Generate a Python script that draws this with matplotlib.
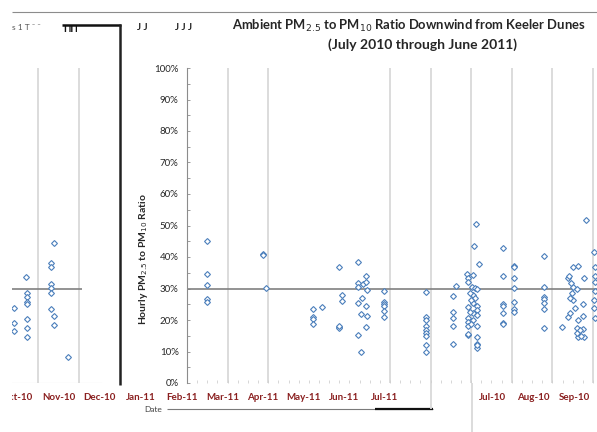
import matplotlib
matplotlib.use("Agg")
import matplotlib.pyplot as plt
from matplotlib.lines import Line2D
from matplotlib.transforms import Bbox, TransformedBbox
import numpy as np

plt.rcParams['font.family'] = ['Lato', 'DejaVu Sans']

W, H = 597, 432

# ---- data -------------------------------------------------------------
# Oct-Dec 2010 strip (x in months since 1 Jul 2010)
strip_x = [3.71, 3.73, 3.73, 3.73, 3.73, 3.73, 3.73, 3.73,
           3.41, 3.41, 3.41,
           4.39, 4.39, 4.39,
           4.32, 4.32, 4.32, 4.32, 4.32, 4.32,
           4.73]
strip_y = [0.337, 0.286, 0.273, 0.257, 0.250, 0.203, 0.175, 0.146,
           0.238, 0.190, 0.165,
           0.444, 0.213, 0.184,
           0.381, 0.368, 0.314, 0.302, 0.286, 0.235,
           0.083]
strip_months = ["Oct-10", "Nov-10", "Dec-10"]

# main panel (x in month units from the ratio axis)
main_x = [0.49, 0.49, 0.49, 0.49, 0.49,
          1.87, 1.87, 1.95,
          3.10, 3.10, 3.10, 3.10, 3.33,
          3.74, 3.74, 3.74, 3.74, 3.82, 3.82,
          4.21, 4.21, 4.21, 4.21, 4.21, 4.29, 4.29, 4.31, 4.33,
          4.41, 4.41, 4.41, 4.41, 4.43, 4.43,
          4.85, 4.85, 4.85, 4.85, 4.85, 4.85,
          5.89, 5.89, 5.89, 5.89, 5.89, 5.89, 5.89, 5.89, 5.89,
          6.55, 6.55, 6.55, 6.55, 6.55, 6.63,
          7.12, 7.07, 7.19, 6.90,
          6.92, 6.92, 6.92, 6.92, 6.92, 6.92, 6.92, 6.92,
          7.04, 7.04, 7.04, 7.04, 7.04, 7.02, 7.09, 7.09,
          7.14, 7.14, 7.14, 7.14, 7.14, 7.14, 7.14,
          6.97, 6.97, 7.00, 7.00, 7.14, 7.14,
          7.78, 7.78, 7.78, 7.78, 7.78, 7.78, 7.78,
          8.05, 8.05, 8.05, 8.05, 8.05, 8.05, 8.05,
          8.79, 8.79, 8.79, 8.79, 8.79, 8.79, 8.79,
          9.83, 9.38, 9.38, 9.41, 9.51, 9.51, 9.51, 9.63, 9.63, 9.63,
          9.78, 9.78, 9.46, 9.61, 9.61, 9.61, 9.48, 9.43, 9.43,
          9.75, 9.75, 9.75, 9.56, 9.24, 9.68, 9.70,
          10.03, 10.04, 10.05, 10.05, 10.05, 10.03, 10.03, 10.05]
main_y = [0.451, 0.346, 0.311, 0.267, 0.257,
          0.410, 0.405, 0.302,
          0.235, 0.210, 0.203, 0.187, 0.241,
          0.368, 0.178, 0.175, 0.181, 0.279, 0.260,
          0.384, 0.317, 0.305, 0.254, 0.152, 0.219, 0.098, 0.270, 0.314,
          0.340, 0.321, 0.244, 0.178, 0.295, 0.213,
          0.292, 0.257, 0.250, 0.244, 0.229, 0.210,
          0.289, 0.210, 0.200, 0.181, 0.168, 0.159, 0.149, 0.121, 0.098,
          0.276, 0.225, 0.206, 0.181, 0.124, 0.308,
          0.505, 0.435, 0.378, 0.346,
          0.333, 0.321, 0.241, 0.206, 0.194, 0.181, 0.152, 0.156,
          0.343, 0.279, 0.254, 0.222, 0.200, 0.305, 0.302, 0.270,
          0.298, 0.244, 0.181, 0.146, 0.124, 0.111, 0.121,
          0.286, 0.225, 0.263, 0.187, 0.232, 0.216,
          0.429, 0.340, 0.250, 0.244, 0.222, 0.190, 0.187,
          0.371, 0.368, 0.333, 0.302, 0.257, 0.235, 0.225,
          0.403, 0.305, 0.273, 0.267, 0.254, 0.235, 0.175,
          0.517, 0.333, 0.210, 0.340, 0.368, 0.305, 0.263, 0.371, 0.200, 0.146,
          0.333, 0.146, 0.317, 0.298, 0.175, 0.159, 0.286, 0.270, 0.222,
          0.250, 0.213, 0.171, 0.238, 0.178, 0.168, 0.149,
          0.416, 0.368, 0.340, 0.321, 0.292, 0.263, 0.238, 0.206]
main_months = ["Jan-11", "Feb-11", "Mar-11", "Apr-11", "May-11", "Jun-11", "Jul-11"]
late_months = ["Jul-10", "Aug-10", "Sep-10"]
main_grid = [1, 2, 5, 6, 7, 8, 9, 10]
reference_ratio = 0.30

# ---- styling ---------------------------------------------------------
BLUE = "#4a7ebb"
GRID = "#d9d9d9"
REF = "#808080"
LABEL = "#8a1f1f"
MONTH_PX = 40.6
MS = 3.0


def fx(px):
    return px / W


def fy(py):
    return 1 - py / H


def fig_line(x0, y0, x1, y1, color, lw):
    fig.add_artist(Line2D([fx(x0), fx(x1)], [fy(y0), fy(y1)],
                          transform=fig.transFigure, color=color, lw=lw,
                          solid_capstyle="butt"))


fig = plt.figure(figsize=(W / 100, H / 100), dpi=100)

# ---- Oct-Dec strip ----------------------------------------------------
axs = fig.add_axes([fx(12), fy(383), fx(120) - fx(12), fy(68) - fy(383)])
axs.set_xlim(3.366, 6.0)
axs.set_ylim(0, 1)
for s in axs.spines.values():
    s.set_visible(False)
axs.set_xticks([])
axs.set_yticks([])
for g in (4, 5):
    axs.axvline(g, color=GRID, lw=1.3, zorder=1)
axs.hlines(reference_ratio, 3.366, 5.07, color=REF, lw=1.2, zorder=2)
axs.axhline(0, xmin=0, xmax=0.82, color="#cfcfcf", lw=0.8)
axs.plot(strip_x, strip_y, ls="none", marker="D", ms=MS, mfc="white",
         mec=BLUE, mew=0.8, zorder=3)
strip_clip = TransformedBbox(Bbox.from_extents(fx(12), 0, fx(120), 1), fig.transFigure)
for i, m in enumerate(strip_months):
    t = axs.text(3.5 + i, -0.047, m, ha="center", va="center", fontsize=7,
                 fontweight="bold", color=LABEL, transform=axs.get_xaxis_transform())
    t.set_clip_box(strip_clip)
    t.set_clip_on(True)

# ---- main panel ---------------------------------------------------------
ax = fig.add_axes([fx(187), fy(383), fx(597) - fx(187), fy(68) - fy(383)])
ax.set_xlim(0, (597 - 187) / MONTH_PX)
ax.set_ylim(0, 1)
for k in ("top", "right", "bottom"):
    ax.spines[k].set_visible(False)
ax.spines["left"].set_color("#8c8c8c")
ax.spines["left"].set_linewidth(0.8)
ax.set_yticks(np.arange(0, 1.01, 0.1))
ax.set_yticklabels([f"{int(round(v * 100))}%" for v in np.arange(0, 1.01, 0.1)],
                   fontsize=7, color="#262626")
ax.set_yticks(np.arange(0.05, 1.0, 0.1), minor=True)
ax.tick_params(axis="y", which="both", direction="in", length=2, width=0.6,
               color="#8c8c8c", pad=6)
ax.set_xticks(np.arange(0.25, 10.1, 0.25), minor=True)
ax.set_xticks([])
ax.tick_params(axis="x", which="minor", direction="in", length=2, width=0.6,
               color="#d0d0d0")
for g in main_grid:
    ax.axvline(g, color=GRID, lw=1.3, zorder=1)
ax.axhline(reference_ratio, color=REF, lw=1.2, zorder=2)
ax.plot(main_x, main_y, ls="none", marker="D", ms=MS, mfc="white",
        mec=BLUE, mew=0.8, zorder=3, clip_on=False)

xt = ax.get_xaxis_transform()
for i, m in enumerate(main_months):
    ax.text(i - 1.13, -0.047, m, ha="center", va="center", fontsize=7,
            fontweight="bold", color=LABEL, transform=xt, clip_on=False)
for i, m in enumerate(late_months):
    ax.text(7.53 + i, -0.047, m, ha="center", va="center", fontsize=7,
            fontweight="bold", color=LABEL, transform=xt, clip_on=False)

# ---- titles ---------------------------------------------------------------
fig.text(fx(232), fy(26), r"Ambient PM$_{2.5}$ to PM$_{10}$ Ratio Downwind from Keeler Dunes",
         ha="left", va="center", fontsize=9.4, fontweight="bold", color="#262626")
fig.text(fx(423), fy(45), "(July 2010 through June 2011)",
         ha="center", va="center", fontsize=10, fontweight="bold", color="#262626")
fig.text(fx(144), fy(259), r"Hourly PM$_{2.5}$ to PM$_{10}$ Ratio", rotation=90,
         ha="center", va="center", fontsize=7.5, fontweight="bold", color="#262626")
fig.text(fx(153), fy(410), "Date", ha="center", va="center", fontsize=6, color="#404040")

# title fragments along the top edge
fig.text(fx(12), fy(27), "s 1 T ˉ ˉ", ha="left", va="center", fontsize=6, color="#555555")
fig.text(fx(137), fy(27), "J J", ha="left", va="center", fontsize=7,
         fontweight="bold", color="#1a1a1a")
fig.text(fx(175), fy(27), "J J J", ha="left", va="center", fontsize=7,
         fontweight="bold", color="#1a1a1a")
fig.text(fx(63), fy(29), "ΠΠ", ha="left", va="center", fontsize=7,
         fontweight="bold", color="#111111")

# ---- frame pieces -------------------------------------------------------
fig_line(12, 12, 597, 12, "#8c8c8c", 0.8)
fig_line(62, 25, 121, 25, "#111111", 1.8)
fig_line(120, 24, 120, 385, "#222222", 1.8)
fig_line(167, 409, 433, 409, "#7a7a7a", 0.8)
fig_line(375, 409, 433, 409, "#111111", 1.6)
fig_line(431, 383, 431, 409, GRID, 1.3)
fig_line(472, 383, 472, 432, GRID, 1.3)

fig.savefig("out.png", dpi=100)
